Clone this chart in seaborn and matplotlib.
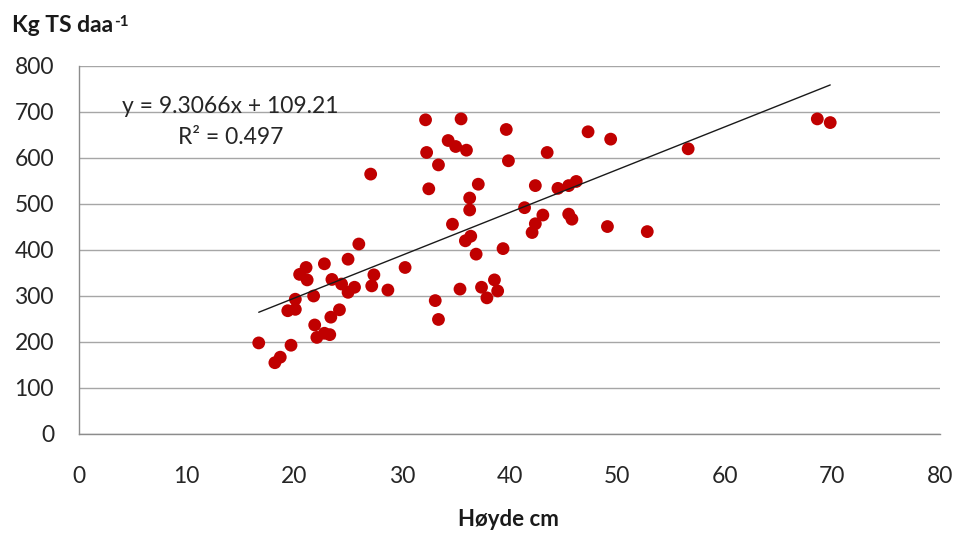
import matplotlib
matplotlib.use("Agg")
import matplotlib.pyplot as plt
import seaborn as sns
import pandas as pd
import numpy as np

# Data
hoyde = [16.7, 18.2, 18.7, 19.4, 19.7, 20.1, 20.1, 20.5, 21.1, 21.2, 21.8, 21.9,
         22.1, 22.8, 22.8, 23.3, 23.4, 23.5, 24.2, 24.4, 25.0, 25.0, 25.6, 26.0,
         27.1, 27.2, 27.4, 28.7, 30.3, 32.2, 32.3, 32.5, 33.1, 33.4, 33.4, 34.3,
         34.7, 35.0, 35.4, 35.5, 35.9, 36.0, 36.3, 36.3, 36.4, 36.9, 37.1, 37.4,
         37.9, 38.6, 38.9, 39.4, 39.7, 39.9, 41.4, 42.1, 42.4, 42.4, 43.1, 43.5,
         44.5, 45.5, 45.5, 45.8, 46.2, 47.3, 49.1, 49.4, 52.8, 56.6, 68.6, 69.8]
kg_ts = [198, 155, 167, 268, 193, 293, 271, 347, 362, 335, 300, 237,
         210, 370, 219, 216, 254, 336, 270, 326, 380, 308, 319, 413,
         565, 322, 346, 313, 362, 683, 612, 533, 290, 249, 585, 638,
         456, 625, 315, 685, 420, 617, 513, 487, 430, 391, 543, 319,
         296, 335, 311, 403, 662, 594, 492, 438, 457, 540, 476, 612,
         534, 540, 478, 467, 549, 657, 451, 641, 440, 620, 685, 677]
slope = 9.3066
intercept = 109.21
r2 = 0.497
x_ticks = [0, 10, 20, 30, 40, 50, 60, 70, 80]
y_ticks = [0, 100, 200, 300, 400, 500, 600, 700, 800]

df = pd.DataFrame({"x": hoyde, "y": kg_ts})
xr = np.array([min(hoyde), max(hoyde)])
trend = pd.DataFrame({"x": xr, "y": slope * xr + intercept})

sns.set_style("white")
plt.rcParams["font.family"] = ["Lato", "DejaVu Sans"]

W, H = 955, 533
fig = plt.figure(figsize=(W / 100, H / 100), dpi=100)
ax = fig.add_axes([79 / W, 1 - 434 / H, (940 - 79) / W, (434 - 66) / H])

ax.yaxis.grid(True, color="#a6a6a6", linewidth=1.0)
ax.set_axisbelow(True)

sns.scatterplot(data=df, x="x", y="y", ax=ax, color="#c00000", s=85,
                edgecolor="none", linewidth=0, zorder=3)
sns.lineplot(data=trend, x="x", y="y", ax=ax, color="#1a1a1a", linewidth=1.0,
             zorder=4)

ax.set_xlim(0, 80)
ax.set_ylim(0, 800)
ax.set_xticks(x_ticks)
ax.set_yticks(y_ticks)
ax.set_xticklabels([str(v) for v in x_ticks])
ax.set_yticklabels([str(v) for v in y_ticks])

for side in ["top", "right"]:
    ax.spines[side].set_visible(False)
for side in ["left", "bottom"]:
    ax.spines[side].set_color("#8c8c8c")
    ax.spines[side].set_linewidth(1.0)

ax.tick_params(axis="both", which="major", direction="out", length=6, width=1,
               color="#8c8c8c", labelsize=16.5, labelcolor="#262626")
ax.tick_params(axis="x", pad=17)
ax.tick_params(axis="y", pad=12)

ax.set_xlabel("")
ax.set_ylabel("")

fig.text(508.6 / W, 1 - 526 / H, "Høyde cm", ha="center", va="baseline",
         fontsize=16, fontweight="bold", color="#1a1a1a")
title = fig.text(12 / W, 1 - 32 / H, "Kg TS daa", ha="left", va="baseline",
                 fontsize=16.5, fontweight="bold", color="#1a1a1a")
fig.canvas.draw()
bb = title.get_window_extent()
fig.text((bb.x1 + 0.5) / W, 1 - 26 / H, "-1", ha="left", va="baseline",
         fontsize=11, fontweight="bold", color="#1a1a1a")

ax.text((230 - 79) / 861, (434 - 107) / 368, f"y = {slope}x + {intercept}",
        transform=ax.transAxes, ha="center", va="center", fontsize=16.5,
        color="#262626")
ax.text((231 - 79) / 861, (434 - 138) / 368, f"R² = {r2}",
        transform=ax.transAxes, ha="center", va="center", fontsize=16.5,
        color="#262626")

fig.savefig("out.png", dpi=100)
